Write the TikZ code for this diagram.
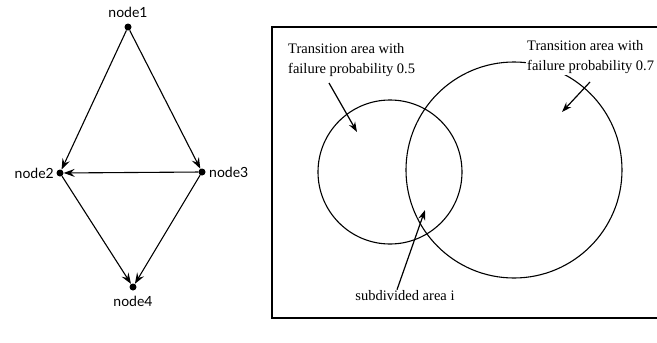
\documentclass[tikz,border=0pt]{standalone}
\usepackage{fontspec}
\setmainfont{Liberation Serif}
\newfontfamily\nodefont{Lato}
\usetikzlibrary{arrows.meta}
\begin{document}
\begin{tikzpicture}[x=1pt,y=-1pt,
 dot/.style={circle,fill=black,inner sep=0pt,minimum size=7pt},
 lbl/.style={font=\nodefont\fontsize{14}{16}\selectfont,inner sep=1pt},
 edge/.style={-{Stealth[length=11pt,width=8pt,inset=4pt]},line width=1.1pt},
 note/.style={font=\fontsize{14.5}{20}\selectfont,align=left,inner sep=1pt},
 ptr/.style={-{Stealth[length=10pt,width=7pt]},line width=1.2pt},
 ring/.style={circle,draw,line width=1.1pt,inner sep=0pt}]
\useasboundingbox[fill=white] (0,0) rectangle (657,343);
% left graph
\node[dot] (n1) at (128,27) {};
\node[dot] (n2) at (60,173) {};
\node[dot] (n3) at (202,172) {};
\node[dot] (n4) at (133,287) {};
\node[lbl] (l1) at (128,12) {node1};
\node[lbl,anchor=east] (l2) at (55,173) {node2};
\node[lbl,anchor=west] (l3) at (208,172) {node3};
\node[lbl] (l4) at (133,301) {node4};
\draw[edge] (n1) -- (n2);
\draw[edge] (n1) -- (n3);
\draw[edge] (n3) -- (n2);
\draw[edge] (n2) -- (n4);
\draw[edge] (n3) -- (n4);
% right figure
\coordinate (bt) at (665,27);
\coordinate (btl) at (272,27);
\coordinate (bbl) at (272,318);
\coordinate (bb) at (665,318);
\draw[line width=1.1pt] (bt) -- (btl) -- (bbl) -- (bb);
\node[ring,minimum size=144pt] (c1) at (390,172) {};
\node[ring,minimum size=216pt] (c2) at (514,170) {};
\node[note,anchor=west] (t5) at (287,60) {Transition area with\\failure probability 0.5};
\node[note,anchor=west,fill=white] (t7) at (526,57) {Transition area with\\failure probability 0.7};
\node[note] (ts) at (405,296) {subdivided area i};
\coordinate (a5s) at (329,83);
\coordinate (a5e) at (357,132);
\coordinate (a7s) at (590,82);
\coordinate (a7e) at (562,112);
\coordinate (ase) at (425,210);
\draw[ptr] (a5s) -- (a5e);
\draw[ptr] (a7s) -- (a7e);
\draw[ptr] (ts.north -| 397,0) -- (ase);
\end{tikzpicture}
\end{document}
